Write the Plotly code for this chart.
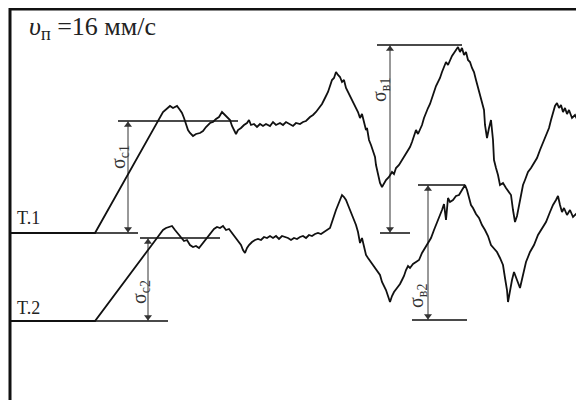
import plotly.graph_objects as go

# ---- data (pixel-space units of the original diagram) ----
t1_x = [10, 95, 163, 167, 170, 173, 177, 180, 182, 184, 186, 188, 190, 193, 196, 200, 203, 206, 210, 213, 216, 219, 222, 225, 228, 230, 232, 234, 236, 238, 241, 244, 247, 249, 251, 254, 257, 260, 263, 266, 270, 273, 276, 280, 283, 286, 290, 293, 296, 300, 303, 306, 310, 313, 316, 319, 322, 325, 328, 330, 332, 334, 336, 338, 340, 342, 344, 346, 348, 350, 352, 354, 356, 358, 360, 362, 364, 366, 367, 369, 371, 373, 375, 376, 378, 380, 382, 384, 386, 389, 392, 394, 396, 399, 402, 405, 408, 410, 412, 414, 416, 418, 420, 422, 424, 426, 428, 430, 432, 434, 436, 438, 440, 442, 444, 446, 448, 450, 452, 454, 456, 458, 460, 462, 464, 466, 468, 470, 472, 474, 476, 478, 480, 482, 484, 485, 487, 489, 491, 493, 494, 496, 498, 500, 503, 506, 509, 511, 513, 515, 517, 519, 521, 523, 525, 528, 531, 534, 537, 540, 543, 546, 549, 551, 553, 555, 557, 559, 561, 563, 565, 567, 569, 572, 575, 578, 581, 584]
t1_y = [233, 233, 112, 108, 106, 108, 106, 110, 113, 118, 125, 130, 133, 136, 134, 133, 131, 127, 123, 122, 119, 117, 112, 115, 117, 120, 126, 131, 134, 130, 128, 125, 123, 120, 125, 124, 127, 124, 126, 124, 126, 122, 125, 123, 125, 122, 124, 126, 123, 124, 122, 121, 117, 115, 112, 108, 104, 98, 92, 86, 80, 78, 72, 75, 77, 82, 80, 88, 92, 97, 100, 105, 108, 112, 118, 114, 122, 130, 128, 140, 145, 150, 157, 165, 175, 183, 187, 183, 180, 177, 172, 174, 168, 165, 160, 155, 150, 147, 142, 135, 130, 134, 130, 125, 118, 112, 108, 104, 97, 92, 86, 82, 78, 72, 67, 62, 65, 60, 56, 53, 50, 47, 52, 48, 55, 52, 60, 62, 68, 72, 80, 88, 95, 102, 110, 125, 138, 128, 120, 140, 160, 168, 175, 185, 183, 188, 192, 195, 210, 222, 216, 205, 195, 185, 180, 172, 168, 163, 158, 150, 143, 135, 128, 120, 112, 106, 103, 108, 105, 112, 108, 114, 110, 118, 115, 121, 118, 123]

t2_x = [10, 95, 157, 160, 163, 166, 169, 172, 175, 178, 181, 184, 187, 190, 193, 196, 199, 202, 205, 208, 211, 214, 217, 220, 223, 226, 229, 232, 235, 238, 241, 243, 245, 247, 249, 252, 255, 258, 261, 264, 267, 270, 273, 276, 279, 282, 285, 288, 291, 294, 297, 300, 303, 306, 309, 312, 315, 318, 321, 324, 327, 330, 332, 334, 336, 338, 340, 342, 344, 346, 348, 350, 352, 354, 356, 358, 360, 362, 364, 366, 368, 371, 374, 377, 380, 382, 384, 386, 388, 390, 392, 394, 397, 400, 402, 404, 406, 408, 410, 413, 416, 419, 422, 425, 428, 431, 434, 437, 440, 442, 444, 446, 448, 450, 453, 456, 459, 462, 465, 467, 469, 471, 473, 476, 479, 482, 485, 488, 491, 494, 497, 500, 503, 505, 507, 508, 510, 512, 514, 516, 518, 520, 523, 526, 530, 534, 538, 542, 546, 550, 553, 556, 558, 560, 562, 564, 567, 570, 573, 576, 580, 584]
t2_y = [321, 321, 238, 234, 230, 228, 227, 226, 230, 234, 238, 241, 240, 245, 247, 246, 248, 244, 241, 236, 232, 229, 227, 228, 226, 230, 229, 233, 236, 240, 245, 250, 253, 248, 245, 242, 240, 239, 240, 237, 238, 236, 238, 236, 239, 236, 237, 238, 240, 238, 239, 237, 236, 238, 235, 236, 234, 233, 234, 232, 230, 228, 222, 215, 210, 205, 200, 195, 197, 200, 205, 210, 214, 220, 225, 232, 243, 238, 248, 255, 258, 262, 266, 270, 275, 282, 286, 290, 296, 302, 296, 292, 288, 284, 280, 276, 270, 266, 268, 264, 262, 260, 253, 248, 243, 238, 230, 223, 215, 210, 204, 220, 198, 202, 200, 196, 195, 190, 185, 190, 198, 205, 208, 214, 218, 225, 230, 236, 245, 248, 252, 258, 265, 278, 290, 302, 290, 280, 272, 278, 284, 288, 275, 262, 252, 245, 235, 228, 222, 212, 205, 200, 196, 205, 212, 208, 215, 210, 217, 214, 220, 223]

# dimension markers
dim_names = ["σ<sub>с1</sub>", "σ<sub>с2</sub>", "σ<sub>в1</sub>", "σ<sub>в2</sub>"]
dim_x = [128, 148, 390, 428]
dim_top = [121, 238, 45, 185]
dim_bot = [233, 321, 233, 320]
dim_label_x = [119, 140, 380, 417]
dim_label_y = [157, 292, 90, 296]
# reference level lines
ref_x0 = [118, 95, 140, 95, 377, 380, 418, 412]
ref_x1 = [238, 138, 220, 168, 462, 410, 465, 467]
ref_y = [121, 233, 238, 321, 45, 233, 185, 320]

title_text = "<i>υ</i><sub>п</sub> =16 мм/с"
curve_names = ["T.1", "T.2"]
curve_label_y = [218, 308]

SERIF = "Liberation Serif, Times New Roman, serif"
OFF = 8  # browser body margin compensation
W, H = 584 - OFF, 400 - OFF

fig = go.Figure()

# frame (top and left border)
fig.add_trace(go.Scatter(x=[584, 10, 10], y=[9, 9, 400], mode="lines",
                         line=dict(color="#111111", width=3),
                         hoverinfo="skip", showlegend=False))

for x0, x1, y in zip(ref_x0, ref_x1, ref_y):
    fig.add_trace(go.Scatter(x=[x0, x1], y=[y, y], mode="lines",
                             line=dict(color="#4a4a4a", width=2),
                             hoverinfo="skip", showlegend=False))

# dimension arrows: shaft + triangle heads
for x, yt, yb in zip(dim_x, dim_top, dim_bot):
    fig.add_trace(go.Scatter(x=[x, x], y=[yt, yb], mode="lines",
                             line=dict(color="#333333", width=1),
                             hoverinfo="skip", showlegend=False))
    fig.add_trace(go.Scatter(x=[x, x], y=[yt + 4, yb - 4], mode="markers",
                             marker=dict(symbol=["triangle-up", "triangle-down"],
                                         size=7, color="#333333",
                                         line=dict(width=0)),
                             hoverinfo="skip", showlegend=False))

fig.add_trace(go.Scatter(x=t1_x, y=t1_y, mode="lines",
                         line=dict(color="#111111", width=1.8),
                         showlegend=False))
fig.add_trace(go.Scatter(x=t2_x, y=t2_y, mode="lines",
                         line=dict(color="#111111", width=1.8),
                         showlegend=False))

annotations = []
for name, lx, ly in zip(dim_names, dim_label_x, dim_label_y):
    annotations.append(dict(x=lx, y=ly, xref="x", yref="y", text=name,
                            showarrow=False, textangle=-90,
                            font=dict(family=SERIF, size=20, color="#333333")))

for name, y in zip(curve_names, curve_label_y):
    annotations.append(dict(x=15, y=y, xref="x", yref="y", text=name,
                            showarrow=False, xanchor="left", yanchor="middle",
                            font=dict(family=SERIF, size=18, color="#222222")))

annotations.append(dict(x=27, y=28, xref="x", yref="y", text=title_text,
                        showarrow=False, xanchor="left", yanchor="middle",
                        font=dict(family=SERIF, size=26, color="#222222")))

fig.update_layout(
    width=W, height=H,
    margin=dict(l=0, r=0, t=0, b=0),
    paper_bgcolor="white", plot_bgcolor="white",
    xaxis=dict(range=[OFF, 584], visible=False, fixedrange=True),
    yaxis=dict(range=[400, OFF], visible=False, fixedrange=True),
    annotations=annotations,
)

fig.write_html("out.html")
